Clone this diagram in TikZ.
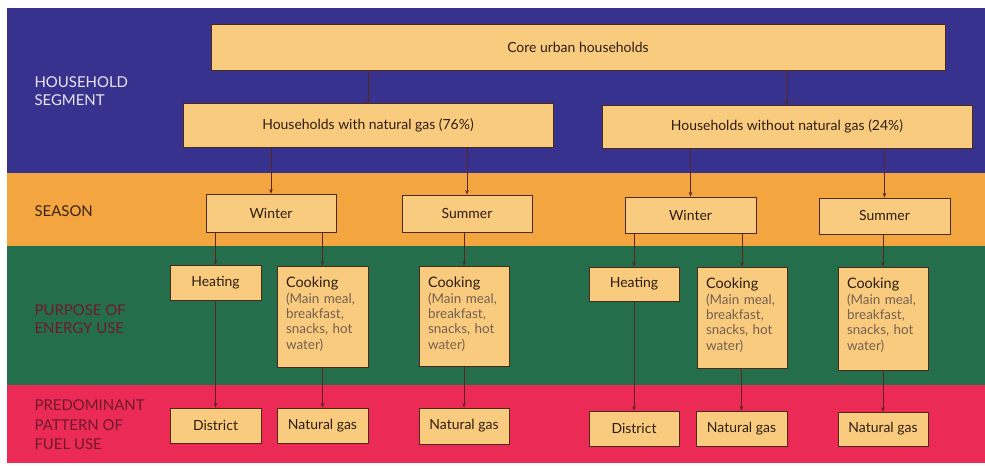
\documentclass[tikz,border=0pt]{standalone}
\usepackage{fontspec}
\setmainfont{Lato}
\usetikzlibrary{arrows.meta}
\definecolor{bandblue}{HTML}{38328F}
\definecolor{bandorange}{HTML}{F3A640}
\definecolor{bandgreen}{HTML}{246E4B}
\definecolor{bandred}{HTML}{EC2A56}
\definecolor{boxfill}{HTML}{F8CB7E}
\definecolor{boxline}{HTML}{4A2A1C}
\definecolor{inktext}{HTML}{2E1C12}
\definecolor{subtext}{HTML}{786050}
\definecolor{linkcol}{HTML}{5A2422}
\definecolor{lblwhite}{HTML}{ECE6F2}
\definecolor{lbldark}{HTML}{3A2214}
\definecolor{lblred}{HTML}{6E1A2C}
\tikzset{
  fbox/.style={draw=boxline, line width=0.8bp, fill=boxfill, text=inktext,
    inner sep=0pt, font=\fontsize{14}{16}\selectfont},
  cookbox/.style={fbox, align=left, anchor=north west, text width=80bp,
    font=\fontsize{13.5}{15.5}\selectfont},
  link/.style={draw=linkcol, line width=0.8bp, -{Stealth[length=4.5bp,width=3.5bp]}},
  rowlabel/.style={anchor=west, align=left, font=\fontsize{15}{18.5}\selectfont},
}
\newcommand{\cooktext}{{\fontsize{14.5}{15.5}\selectfont Cooking}\\{\color{subtext}(Main meal,\\breakfast,\\snacks, hot\\water)}}
\begin{document}
\begin{tikzpicture}[x=1bp, y=-1bp]
  \useasboundingbox (0,0) rectangle (985,466);
  \fill[white] (0,0) rectangle (985,466);
  % background bands
  \fill[bandblue]   (7,8)   rectangle (985,173);
  \fill[bandorange] (7,173) rectangle (985,246);
  \fill[bandgreen]  (7,246) rectangle (985,385);
  \fill[bandred]    (7,385) rectangle (985,463);

  % row labels
  \node[rowlabel, text=lblwhite] (lseg) at (31,91) {HOUSEHOLD\\SEGMENT};
  \node[rowlabel, text=lbldark] (lsea) at (31,211) {SEASON};
  \node[rowlabel, text=lblred] (lpur) at (31,319) {PURPOSE OF\\ENERGY USE};
  \node[rowlabel, text=lblred, font=\fontsize{15}{19.5}\selectfont] (lfuel) at (31,425) {PREDOMINANT\\PATTERN OF\\FUEL USE};

  % household segment
  \node[fbox, minimum width=734bp, minimum height=46bp] (core) at (578,47) {Core urban households};
  \node[fbox, minimum width=370bp, minimum height=44bp] (gas) at (368,125) {Households with natural gas (76\%)};
  \node[fbox, minimum width=370bp, minimum height=43bp] (nogas) at (787,126.5) {Households without natural gas (24\%)};

  % seasons
  \node[fbox, minimum width=130bp, minimum height=38bp] (w1) at (271,213) {Winter};
  \node[fbox, minimum width=130bp, minimum height=37bp] (s1) at (467,213.5) {Summer};
  \node[fbox, minimum width=131bp, minimum height=36bp] (w2) at (690.5,215) {Winter};
  \node[fbox, minimum width=131bp, minimum height=36bp] (s2) at (884.5,216) {Summer};

  % purpose of energy use
  \node[fbox, minimum width=91bp, minimum height=35bp] (h1) at (215.5,282.5) {Heating};
  \node[fbox, minimum width=90bp, minimum height=34bp] (h2) at (634,284) {Heating};
  \node[fbox, minimum width=91bp, minimum height=101bp, anchor=center] (c1) at (322.5,316.5) {};
  \node[fbox, minimum width=90bp, minimum height=100bp, anchor=center] (c2) at (464,316) {};
  \node[fbox, minimum width=90bp, minimum height=101bp, anchor=center] (c3) at (742,317.5) {};
  \node[fbox, minimum width=90bp, minimum height=103bp, anchor=center] (c4) at (883,318.5) {};
  \foreach \c in {c1,c2,c3,c4}
    \node[cookbox, draw=none, fill=none] (\c t) at ([xshift=9bp, yshift=-11bp]\c.north west) {\cooktext};

  % fuel use
  \node[fbox, minimum width=91bp, minimum height=35bp] (d1) at (215.5,425.5) {District};
  \node[fbox, minimum width=91bp, minimum height=35bp] (n1) at (322.5,425.5) {Natural gas};
  \node[fbox, minimum width=90bp, minimum height=36bp] (n2) at (464,426) {Natural gas};
  \node[fbox, minimum width=90bp, minimum height=35bp] (d2) at (634,428.5) {District};
  \node[fbox, minimum width=91bp, minimum height=35bp] (n3) at (741.5,428.5) {Natural gas};
  \node[fbox, minimum width=90bp, minimum height=34bp] (n4) at (883,429) {Natural gas};

  % connectors
  \draw[link] (core.south -| gas) -- (gas.north);
  \draw[link] (core.south -| nogas) -- (nogas.north);
  \draw[link] (gas.south -| w1) -- (w1.north);
  \draw[link] (gas.south -| s1) -- (s1.north);
  \draw[link] (nogas.south -| w2) -- (w2.north);
  \draw[link] (nogas.south -| s2) -- (s2.north);
  \draw[link] (w1.south -| h1) -- (h1.north);
  \draw[link] (w1.south -| c1) -- (c1.north);
  \draw[link] (s1.south -| c2) -- (c2.north);
  \draw[link] (w2.south -| h2) -- (h2.north);
  \draw[link] (w2.south -| c3) -- (c3.north);
  \draw[link] (s2.south -| c4) -- (c4.north);
  \draw[link] (h1.south) -- (d1.north);
  \draw[link] (c1.south) -- (n1.north);
  \draw[link] (c2.south) -- (n2.north);
  \draw[link] (h2.south) -- (d2.north);
  \draw[link] (c3.south -| n3) -- (n3.north);
  \draw[link] (c4.south) -- (n4.north);
\end{tikzpicture}
\end{document}
